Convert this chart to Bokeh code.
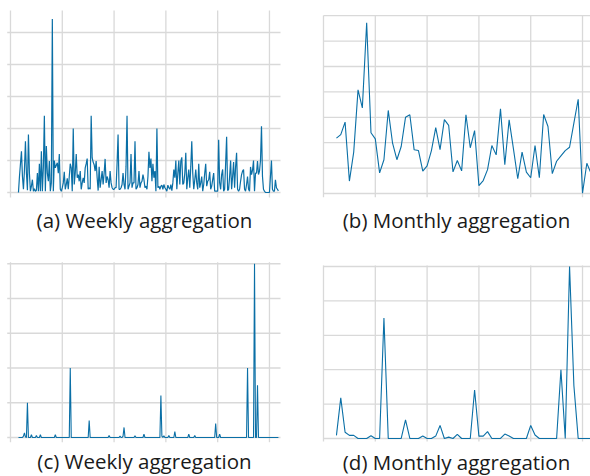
from bokeh.plotting import figure
from bokeh.layouts import column, row
from bokeh.models import Range1d
from bokeh.core.properties import value
from bokeh.embed import file_html
from bokeh.resources import INLINE

LINE = "#0a6fa6"
GRID = "#d9d9d9"
TEXT = "#1a1a1a"

# ---- data -------------------------------------------------------------
weeks = list(range(8, 270))          # week index (0 = first year boundary)
months = list(range(3, 63))          # month index (0 = first year boundary)
year_ticks_w = [0, 52, 104, 156, 208, 260]
year_ticks_m = [0, 12, 24, 36, 48, 60]
level_ticks_a = [0, 1, 2, 3, 4, 5]
level_ticks_b = [0, 1, 2, 3, 4, 5, 6, 7]
level_ticks_c = [0, 1, 2, 3, 4, 5]
level_ticks_d = [0, 1, 2, 3, 4, 5]

weekly_a = [
    0.0, 0.5, 0.9, 1.29, 0.5, 0.1, 0.7, 1.6, 0.6, 0.07,
    1.81, 0.6, 0.04, 0.2, 0.4, 0.04, 0.12, 0.04, 0.07, 0.61,
    0.04, 0.9, 0.04, 1.29, 0.04, 0.8, 2.4, 0.04, 1.45, 0.6,
    0.35, 0.98, 0.04, 0.3, 5.42, 0.04, 1.0, 0.77, 0.85, 0.93,
    0.6, 1.2, 0.1, 0.04, 0.15, 0.3, 0.65, 0.1, 0.25, 0.44,
    0.1, 0.5, 0.9, 0.77, 0.04, 2.0, 0.25, 0.6, 1.2, 0.46,
    0.56, 0.35, 0.67, 0.1, 0.3, 0.46, 0.3, 0.77, 0.9, 1.06,
    0.1, 0.15, 0.1, 2.4, 1.08, 0.95, 0.87, 0.67, 0.98, 0.46,
    0.06, 0.8, 0.15, 0.4, 0.67, 0.25, 0.6, 1.05, 0.3, 0.5,
    0.4, 0.15, 0.67, 0.3, 0.15, 0.1, 0.1, 0.15, 0.15, 0.9,
    1.81, 0.1, 0.1, 0.15, 0.25, 0.61, 0.25, 0.1, 0.8, 2.4,
    0.1, 0.2, 0.3, 1.2, 0.15, 0.3, 0.3, 1.6, 0.1, 0.15,
    0.25, 0.67, 0.15, 0.3, 0.35, 0.56, 0.4, 0.15, 0.2, 0.1,
    0.5, 1.27, 0.77, 1.06, 0.35, 0.9, 0.46, 0.67, 0.04, 2.0,
    0.15, 0.2, 0.1, 0.2, 0.23, 0.1, 0.25, 0.15, 0.1, 0.04,
    0.23, 0.15, 0.1, 0.25, 0.06, 0.3, 0.72, 0.46, 1.0, 0.1,
    0.6, 1.0, 0.25, 0.98, 1.1, 0.25, 0.3, 0.6, 1.24, 0.1,
    0.46, 0.72, 0.15, 0.8, 1.6, 0.6, 0.1, 0.39, 0.72, 0.3,
    0.1, 0.9, 0.15, 0.3, 0.5, 0.04, 0.25, 0.6, 0.9, 0.2,
    0.35, 0.4, 0.65, 0.1, 0.2, 0.4, 0.61, 0.04, 0.04, 0.04,
    0.04, 1.65, 0.3, 0.1, 0.56, 0.72, 0.04, 0.1, 0.9, 1.74,
    0.06, 0.1, 0.5, 1.0, 0.1, 0.5, 0.95, 0.15, 0.8, 1.24,
    0.1, 0.04, 0.1, 0.35, 0.56, 0.67, 0.72, 0.1, 0.04, 0.25,
    0.5, 0.1, 0.04, 0.8, 0.56, 0.7, 1.0, 0.04, 0.61, 0.6,
    0.98, 0.56, 0.67, 1.0, 2.07, 0.5, 0.1, 0.04, 0.0, 0.0,
    0.0, 0.0, 0.0, 0.5, 1.0, 0.1, 0.04, 0.04, 0.4, 0.15,
    0.1, 0.05,
]

monthly_b = [
    2.18, 2.32, 2.81, 0.49, 1.63, 4.08, 3.37, 6.72, 2.39, 2.15,
    0.81, 1.33, 3.27, 1.98, 1.33, 1.85, 3.0, 3.10, 1.72, 1.69,
    0.88, 1.09, 1.69, 2.59, 1.73, 2.91, 2.68, 0.85, 1.30, 0.89,
    3.10, 1.80, 2.48, 0.31, 0.51, 0.94, 1.89, 1.52, 3.33, 1.13,
    2.90, 1.76, 0.58, 1.63, 0.84, 0.62, 1.89, 0.62, 3.11, 2.64,
    0.78, 1.27, 1.48, 1.69, 1.82, 2.77, 3.71, 0.01, 1.19, 0.78,
]

weekly_c = [
    0, 0, 0, 0, 0, 0.04, 0.13, 0.02, 0, 1.0,
    0, 0, 0, 0.08, 0, 0, 0, 0, 0.06, 0,
    0, 0, 0.08, 0, 0, 0, 0, 0, 0, 0,
    0, 0, 0, 0, 0, 0, 0, 0.08, 0, 0,
    0, 0, 0, 0, 0, 0, 0, 0, 0, 0,
    0, 0, 2.0, 0, 0, 0, 0, 0, 0, 0,
    0, 0, 0, 0, 0, 0, 0, 0, 0, 0,
    0, 0.49, 0, 0, 0, 0, 0, 0, 0, 0,
    0, 0, 0, 0, 0, 0, 0, 0, 0, 0,
    0, 0.06, 0, 0, 0, 0, 0, 0, 0, 0,
    0, 0, 0.04, 0, 0, 0.04, 0.29, 0, 0, 0,
    0, 0, 0, 0, 0, 0, 0, 0.05, 0, 0,
    0, 0, 0, 0, 0, 0, 0.1, 0, 0, 0,
    0, 0, 0, 0, 0, 0, 0, 0, 0, 0,
    0, 0, 0, 1.21, 0.04, 0, 0.05, 0, 0, 0,
    0, 0.06, 0, 0, 0, 0, 0, 0.17, 0, 0,
    0, 0, 0, 0, 0, 0, 0, 0, 0, 0,
    0, 0.1, 0, 0, 0, 0, 0, 0.06, 0, 0,
    0, 0, 0, 0, 0, 0, 0, 0, 0, 0,
    0, 0, 0, 0, 0, 0, 0, 0, 0.4, 0,
    0, 0, 0.1, 0, 0, 0, 0, 0, 0, 0,
    0, 0, 0, 0, 0, 0, 0, 0, 0, 0,
    0, 0, 0, 0, 0, 0, 0, 0, 0, 0,
    2.0, 0, 0, 0, 0, 0, 0, 5.0, 0, 0,
    1.5, 0, 0, 0, 0, 0, 0, 0, 0, 0,
    0, 0, 0, 0, 0, 0, 0, 0, 0, 0,
    0, 0,
]

monthly_d = [
    0.09, 1.18, 0.18, 0.09, 0.09, 0, 0, 0, 0.08, 0,
    0, 3.5, 0, 0, 0, 0, 0.54, 0, 0, 0,
    0.07, 0, 0, 0.07, 0.38, 0, 0.04, 0, 0.12, 0,
    0, 0, 1.41, 0.07, 0.07, 0.2, 0, 0, 0, 0.13,
    0.07, 0, 0, 0, 0, 0.38, 0.1, 0, 0, 0,
    0, 0, 2.0, 0, 5.0, 1.54, 0, 0, 0, 0,
]

captions = ["(a) Weekly aggregation", "(b) Monthly aggregation",
            "(c) Weekly aggregation", "(d) Monthly aggregation"]


def make_panel(caption, width, height, xr, yr, plot_x, plot_y, xticks, yticks,
               xs, ys, lw, cap_xy):
    p = figure(width=width, height=height,
               x_range=Range1d(*xr), y_range=Range1d(*yr),
               x_axis_type=None, y_axis_type=None,
               output_backend="svg", toolbar_location=None,
               min_border=0)
    p.outline_line_color = None
    p.background_fill_color = "white"
    p.border_fill_color = "white"
    # grid lines (year boundaries / value levels), limited to the plot area
    p.segment(x0=xticks, x1=xticks, y0=[plot_y[0]] * len(xticks),
              y1=[plot_y[1]] * len(xticks), line_color=GRID, line_width=1.3)
    p.segment(x0=[plot_x[0]] * len(yticks), x1=[plot_x[1]] * len(yticks),
              y0=yticks, y1=yticks, line_color=GRID, line_width=1.3)
    p.line(xs, ys, line_color=LINE, line_width=lw)
    p.text(x=[cap_xy[0]], y=[cap_xy[1]], text=[caption],
           text_font=value("Open Sans"), text_font_size="20.5px",
           text_color=TEXT, text_align="center", text_baseline="middle")
    return p


# panel (a): 318 x 240 px; week 0 at 10 px, 0.996 px/week; level 0 at 192 px, 32 px/level
pa = make_panel(captions[0], 318, 240,
                (-10.04, 309.24), (-1.5, 6.0),
                (-3.3, 271.1), (-0.156, 5.6875),
                year_ticks_w, level_ticks_a, weeks, weekly_a, 1.2,
                (134.5, -0.86))
# panel (b): 272 x 240 px; month 0 at 5 px, 4.317 px/month; level 0 at 193 px, 25.4 px/level
pb = make_panel(captions[1], 272, 240,
                (-1.158, 61.85), (-1.850, 7.598),
                (0.0, 61.85), (-0.146, 7.008),
                year_ticks_m, level_ticks_b, months, monthly_b, 1.1,
                (30.81, -1.04))
# panel (c): 318 x 236 px; level 0 at 197 px from top, 34.75 px/level
pc = make_panel(captions[2], 318, 236,
                (-10.04, 309.24), (-1.122, 5.669),
                (-3.3, 271.1), (-0.135, 5.045),
                year_ticks_w, level_ticks_c, weeks, weekly_c, 1.1,
                (134.5, -0.69))
# panel (d): 272 x 236 px; level 0 at 198 px from top, 34.4 px/level
pd = make_panel(captions[3], 272, 236,
                (-1.158, 61.85), (-1.105, 5.756),
                (-0.1, 61.85), (-0.087, 5.03),
                year_ticks_m, level_ticks_d, months, monthly_d, 1.1,
                (30.81, -0.67))

layout = column(row(pa, pb), row(pc, pd))
open("out.html", "w").write(file_html(layout, INLINE))
